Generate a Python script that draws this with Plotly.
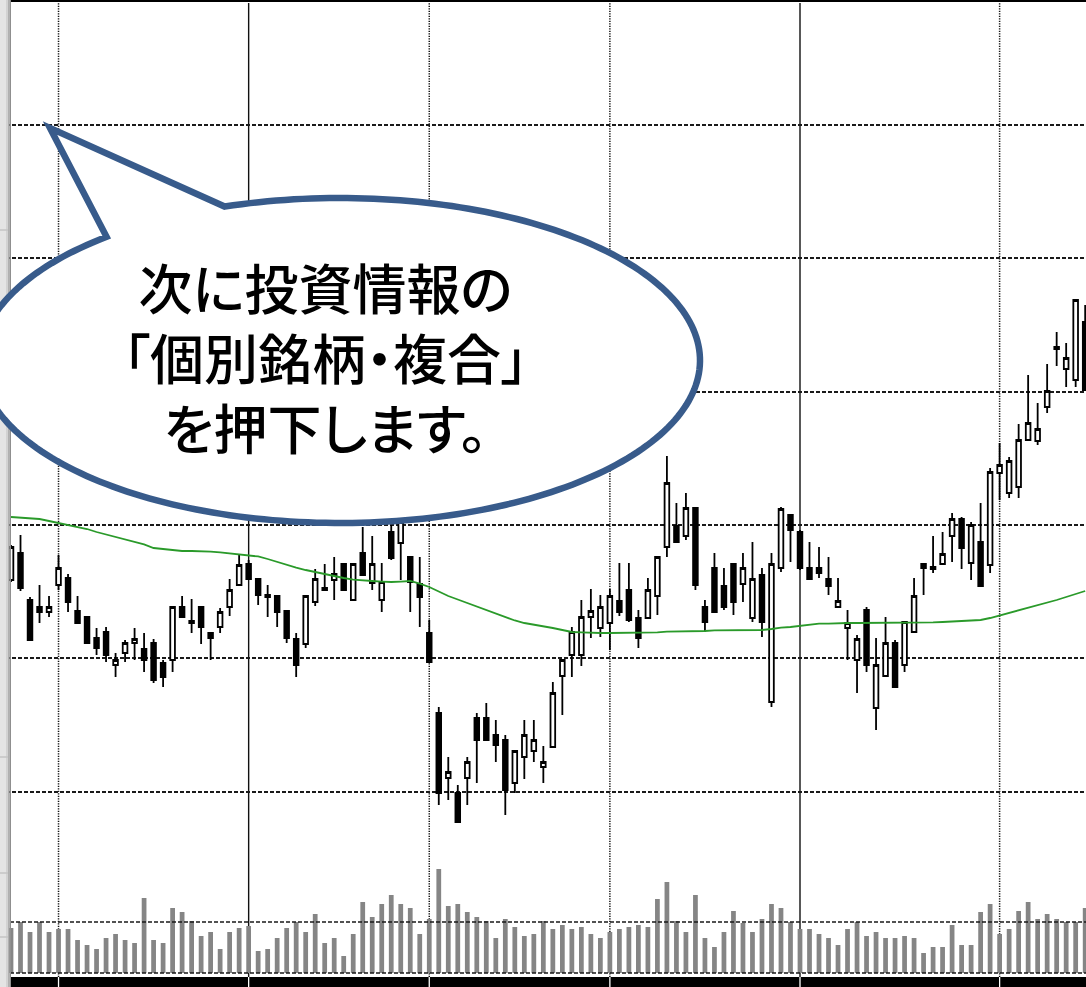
import numpy as np
import plotly.graph_objects as go

W, H = 1086, 987

# ---------------- data ----------------
open_ = [1158.75, 1179, 1143.75, 1138.5, 1134.75, 1155, 1160.25, 1135.5, 1131, 1115.25,
         1119.75, 1095, 1104, 1111.5, 1107, 1111.5, 1096.5, 1098.75, 1138.5, 1128,
         1138.5, 1119, 1123.5, 1138.5, 1155, 1170.75, 1159.5, 1147.5, 1146.75, 1135.5,
         1114.5, 1110.75, 1142.25, 1151.25, 1158.75, 1170.75, 1143.75, 1179, 1156.5, 1143.75,
         1194.75, 1186.5, 1176, 1155.75, 1119, 1059, 1010.25, 999, 1010.25, 1055.25,
         1055.25, 1042.5, 1038.75, 1006.5, 1026, 1030.5, 1018.5, 1033.5, 1086.75, 1102.5,
         1102.5, 1131, 1122.75, 1126.5, 1143, 1151.25, 1130.25, 1130.25, 1146.75, 1183.5,
         1199.25, 1191.75, 1212.75, 1138.5, 1167.75, 1154.25, 1170.75, 1155.75, 1130.25, 1162.5,
         1067.25, 1167.75, 1207.5, 1194.75, 1167.75, 1167.75, 1159.5, 1138.5, 1122.75, 1098.75,
         1136.25, 1062.75, 1086.75, 1111.5, 1095, 1119.75, 1170.75, 1168.5, 1170.75, 1191.75,
         1204.5, 1171.5, 1187.25, 1170, 1239, 1224, 1228.5, 1263.75, 1263, 1288.5,
         1332, 1317, 1308.75, 1352.25]
high = [1185, 1192.5, 1146, 1155, 1146.75, 1177.5, 1163.25, 1146.75, 1131, 1122.75,
        1123.5, 1104, 1113.75, 1122.75, 1119, 1114.5, 1098.75, 1139.25, 1146.75, 1144.5,
        1139.25, 1119.75, 1137.75, 1159.5, 1177.5, 1173.75, 1159.5, 1155, 1146.75, 1135.5,
        1119, 1146.75, 1167, 1170.75, 1176, 1171.5, 1170.75, 1198.5, 1191.75, 1171.5,
        1200, 1207.5, 1176.75, 1176, 1128.75, 1063.5, 1026, 1005, 1026, 1059,
        1066.5, 1053.75, 1042.5, 1030.5, 1053.75, 1053.75, 1034.25, 1082.25, 1098.75, 1123.5,
        1143.75, 1152, 1147.5, 1152, 1171.5, 1171.5, 1136.25, 1160.25, 1176, 1251.75,
        1216.5, 1224, 1212.75, 1143.75, 1179, 1167.75, 1170.75, 1179, 1187.25, 1167.75,
        1179, 1213.5, 1207.5, 1196.25, 1187.25, 1183.5, 1176, 1160.25, 1136.25, 1117.5,
        1138.5, 1115.25, 1131, 1113.75, 1127.25, 1160.25, 1171.5, 1191.75, 1194.75, 1209,
        1206, 1202.25, 1216.5, 1242.75, 1261.5, 1251, 1275.75, 1312.5, 1291.5, 1320.75,
        1344.75, 1336.5, 1369.5, 1365]
low = [1157.25, 1150.5, 1113, 1126.5, 1131, 1151.25, 1134.75, 1126.5, 1110.75, 1102.5,
       1097.25, 1086, 1097.25, 1098.75, 1089.75, 1081.5, 1078.5, 1089.75, 1130.25, 1119,
       1110.75, 1098.75, 1119, 1131.75, 1155, 1158.75, 1140, 1131, 1123.5, 1111.5,
       1086, 1107.75, 1139.25, 1150.5, 1143.75, 1151.25, 1143.75, 1162.5, 1151.25, 1134.75,
       1173.75, 1158.75, 1134.75, 1123.5, 1097.25, 990, 993.75, 977.25, 990, 1006.5,
       1038.75, 1022.25, 982.5, 999, 1009.5, 1022.25, 1006.5, 1033.5, 1057.5, 1086,
       1094.25, 1115.25, 1116, 1106.25, 1131.75, 1127.25, 1107.75, 1130.25, 1132.5, 1176,
       1187.25, 1188.75, 1151.25, 1119.75, 1134.75, 1136.25, 1132.5, 1142.25, 1127.25, 1116,
       1063.5, 1164.75, 1172.25, 1166.25, 1159.5, 1160.25, 1147.5, 1138.5, 1098.75, 1074,
       1089.75, 1046.25, 1086.75, 1078.5, 1089.75, 1119, 1147.5, 1164, 1170.75, 1172.25,
       1167, 1158.75, 1154.25, 1164, 1218.75, 1220.25, 1220.25, 1263.75, 1260, 1284,
       1319.25, 1303.5, 1303.5, 1301.25]
close = [1183.5, 1152.75, 1113.75, 1134.75, 1138.5, 1167.75, 1142.25, 1126.5, 1111.5, 1107.75,
         1102.5, 1098.75, 1111.5, 1114.5, 1098.75, 1083.75, 1086, 1138.5, 1131, 1126.5,
         1123.5, 1115.25, 1134.75, 1151.25, 1170, 1159.5, 1147.5, 1146, 1134.75, 1115.25,
         1095, 1146.75, 1159.5, 1152.75, 1163.25, 1151.25, 1170.75, 1162.5, 1170.75, 1157.25,
         1175.25, 1202.25, 1157.25, 1146, 1097.25, 999, 1014.75, 977.25, 1022.25, 1038.75,
         1038.75, 1035, 1001.25, 1030.5, 1042.5, 1038.75, 1022.25, 1074, 1098.75, 1119.75,
         1131, 1135.5, 1138.5, 1146.75, 1134.75, 1128.75, 1115.25, 1151.25, 1176, 1231.5,
         1187.25, 1212.75, 1155, 1127.25, 1134.75, 1138.5, 1142.25, 1167.75, 1159.5, 1127.25,
         1170.75, 1212, 1196.25, 1167.75, 1159.5, 1164, 1154.25, 1143, 1126.5, 1114.5,
         1095, 1095, 1111.5, 1078.5, 1127.25, 1146.75, 1167.75, 1167, 1178.25, 1204.5,
         1182.75, 1200, 1154.25, 1239.75, 1245, 1248, 1263.75, 1276.5, 1272, 1300.5,
         1333.5, 1325.25, 1368.75, 1301.25]
moving_avg = [1206, 1205.6, 1205.25, 1204.5, 1203, 1201.5, 1200.4, 1198.9, 1197, 1194.75,
              1192.9, 1191, 1189.1, 1187.25, 1185.4, 1182.75, 1182, 1181.25, 1180.5, 1180.5,
              1180.5, 1180.1, 1179.4, 1178.6, 1178.25, 1177.5, 1176.4, 1174.5, 1172.25, 1170,
              1168.1, 1166.25, 1164.75, 1163.25, 1161.4, 1160.25, 1159.1, 1158.4, 1158, 1157.6,
              1157.25, 1157.6, 1158, 1156.1, 1153.5, 1150.1, 1146.75, 1144.1, 1141.5, 1138.9,
              1136.25, 1133.6, 1131, 1128.4, 1126.5, 1125.4, 1123.9, 1122.75, 1121.25, 1119.75,
              1119.4, 1119, 1119, 1119, 1119, 1119, 1119.4, 1119.4, 1119.4, 1120.1,
              1120.1, 1120.5, 1120.5, 1120.5, 1120.9, 1120.9, 1120.9, 1120.9, 1121.25, 1121.25,
              1122, 1123.1, 1123.5, 1124.25, 1125.4, 1126.1, 1126.1, 1126.5, 1126.5, 1126.5,
              1126.5, 1126.5, 1126.5, 1126.5, 1126.5, 1126.5, 1126.9, 1126.9, 1127.25, 1127.6,
              1128, 1128.4, 1128.75, 1130.25, 1132.1, 1134.4, 1136.25, 1137.75, 1139.6, 1141.5,
              1143.75, 1146, 1148.25, 1150.5]
volume = [45, 51, 41, 51, 41, 44, 44, 33, 28, 24,
          35, 39, 33, 30, 75, 33, 30, 65, 61, 52,
          37, 41, 24, 41, 45, 47, 22, 24, 35, 45,
          51, 41, 59, 30, 35, 17, 39, 71, 56, 69,
          78, 69, 65, 39, 54, 104, 67, 69, 61, 56,
          52, 35, 54, 46, 37, 39, 52, 44, 48, 44,
          46, 39, 35, 41, 44, 46, 48, 46, 74, 91,
          52, 41, 78, 35, 26, 41, 62, 50, 41, 54,
          69, 65, 51, 44, 44, 39, 35, 28, 44, 51,
          37, 41, 35, 35, 37, 35, 20, 26, 26, 48,
          28, 28, 61, 69, 39, 44, 62, 71, 54, 59,
          54, 51, 51, 65]
days = list(range(len(open_)))

price_grid = [1000, 1100, 1200, 1300, 1400, 1500]
volume_grid = [0, 51]
vgrid_days = [5, 25, 44, 63, 83, 104]
vgrid_kind = ["dot", "solid", "dot", "dot", "solid", "dot"]
balloon_text = ["次に投資情報の", "「個別銘柄・複合」", "を押下します。"]

# ---------------- geometry helpers (pixels -> paper) ----------------
STEP = 9.506          # pixels per trading day
X0 = 11.0             # pixel of first candle
def PX(p):
    return p / W
def PY(p):
    return 1 - p / H
split = PY(860)

fig = go.Figure()

fig.add_trace(go.Bar(
    x=days, y=volume, width=0.5, xaxis="x", yaxis="y2",
    marker=dict(color="#858585", line=dict(width=0)), showlegend=False, hoverinfo="skip"))

fig.add_trace(go.Candlestick(
    x=days, open=open_, high=high, low=low, close=close,
    increasing=dict(line=dict(color="black", width=1.8), fillcolor="white"),
    decreasing=dict(line=dict(color="black", width=1.8), fillcolor="black"),
    whiskerwidth=0, xaxis="x", yaxis="y", showlegend=False))

fig.add_trace(go.Scatter(
    x=days, y=moving_avg, mode="lines", xaxis="x", yaxis="y",
    line=dict(color="#2a9a2a", width=1.8), showlegend=False, hoverinfo="skip"))

shapes = []
for d, kind in zip(vgrid_days, vgrid_kind):
    shapes.append(dict(type="line", xref="x", yref="paper", x0=d, x1=d,
                       y0=PY(977), y1=PY(3), layer="below",
                       line=dict(color="#111", width=1.4 if kind == "solid" else 1.5,
                                 dash="solid" if kind == "solid" else "1.3px,1.2px")))
for v in volume_grid:
    shapes.append(dict(type="line", xref="paper", yref="y2", x0=PX(10), x1=1, y0=v, y1=v,
                       layer="above", line=dict(color="#1a1a1a", width=1.7, dash="4px,2px")))
shapes.append(dict(type="rect", xref="paper", yref="paper", x0=PX(10), x1=1, y0=0, y1=PY(977),
                   fillcolor="black", line=dict(width=0), layer="above"))
for d in vgrid_days:
    shapes.append(dict(type="line", xref="x", yref="paper", x0=d, x1=d, y0=0, y1=PY(977),
                       layer="above", line=dict(color="white", width=1.3)))
shapes.append(dict(type="rect", xref="paper", yref="paper", x0=PX(10), x1=1, y0=PY(2), y1=1,
                   fillcolor="black", line=dict(width=0), layer="above"))
for a, b, c in [(0, 6, "#e4e4e4"), (6, 8, "#d2d2d2"), (8, 9.5, "#b0b0b0"), (9.5, 11, "#8f8f8f")]:
    shapes.append(dict(type="rect", xref="paper", yref="paper", x0=PX(a), x1=PX(b), y0=0, y1=1,
                       fillcolor=c, line=dict(width=0), layer="above"))
for ty in [230, 757, 873, 937]:
    shapes.append(dict(type="line", xref="paper", yref="paper", x0=0, x1=PX(8), y0=PY(ty), y1=PY(ty),
                       layer="above", line=dict(color="#c4c4c4", width=1.5)))

# speech balloon
cx, cy, rx, ry = 340.0, 360.5, 360.0, 162.5
tip = (50.0, 128.0)
thA = np.arctan2((207 - cy) / ry, (225 - cx) / rx)
thB = np.arctan2((236 - cy) / ry, (105 - cx) / rx) + 2 * np.pi
th = np.linspace(thA, thB, 240)
pts = list(zip(cx + rx * np.cos(th), cy + ry * np.sin(th))) + [tip]
path = "M " + " L ".join(f"{PX(x):.5f},{PY(y):.5f}" for x, y in pts) + " Z"
shapes.append(dict(type="path", xref="paper", yref="paper", path=path, layer="above",
                   fillcolor="white", line=dict(color="#385b8b", width=6.5)))

annotations = [dict(text="<br>".join(balloon_text), xref="paper", yref="paper",
                    x=PX(325), y=PY(357), xanchor="center", yanchor="middle",
                    showarrow=False, align="center",
                    font=dict(family="Noto Sans CJK JP", size=54, color="black", weight=500))]

fig.update_layout(
    width=W, height=H, margin=dict(l=0, r=0, t=0, b=0),
    paper_bgcolor="white", plot_bgcolor="white", boxgap=0.3,
    showlegend=False, shapes=shapes, annotations=annotations,
    xaxis=dict(range=[-X0 / STEP, (W - X0) / STEP], showgrid=False, zeroline=False,
               showticklabels=False, ticks="", showline=False, anchor="y",
               rangeslider=dict(visible=False)),
    yaxis=dict(domain=[split, 1], range=[948.75, 1593.75], tickvals=price_grid,
               showgrid=True, gridcolor="#1a1a1a", gridwidth=1.7, griddash="4px,2px",
               showticklabels=False, ticks="", zeroline=False, showline=False),
    yaxis2=dict(domain=[0, split], range=[-14, 113], anchor="x", showgrid=False,
                showticklabels=False, ticks="", zeroline=False, showline=False),
)

fig.write_html("out.html", config={"displayModeBar": False})

# page CSS: no default body margin; proportional CJK punctuation like the reference font
with open("out.html", encoding="utf-8") as fh:
    html = fh.read()
css = ("<style>html,body{margin:0;padding:0;overflow:hidden;}"
       ".annotation-text{font-feature-settings:'palt' 1;}</style>")
html = html.replace("<head>", "<head>" + css, 1)
with open("out.html", "w", encoding="utf-8") as fh:
    fh.write(html)
